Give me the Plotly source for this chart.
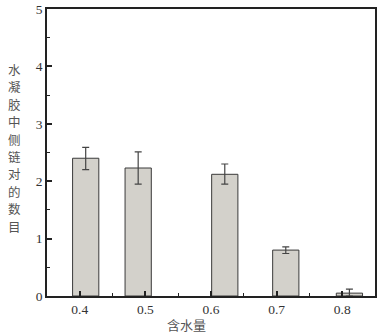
import plotly.graph_objects as go

# Data
bar_x = [0.409, 0.489, 0.621, 0.714, 0.811]   # bar centre positions on the numeric x axis
values = [2.40, 2.23, 2.12, 0.80, 0.05]
err_plus = [0.19, 0.28, 0.18, 0.055, 0.07]
err_minus = [0.20, 0.28, 0.17, 0.06, 0.05]
x_ticks = [0.4, 0.5, 0.6, 0.7, 0.8]
x_ticklabels = ["0.4", "0.5", "0.6", "0.7", "0.8"]
y_ticks = [0, 1, 2, 3, 4, 5]
y_label_chars = list("水凝胶中侧链对的数目")
x_title = "含水量"

L, R, T, B = 47, 3, 9, 40
W, H = 378, 336
pw, ph = W - L - R, H - T - B

fig = go.Figure()
fig.add_trace(go.Bar(
    x=bar_x, y=values, width=0.04,
    marker=dict(color="#d3d1cb", line=dict(color="#3a3a3a", width=1)),
    error_y=dict(type="data", array=err_plus, arrayminus=err_minus,
                 color="#444444", thickness=1.2, width=3.5),
))

axis_font = dict(family="Liberation Serif", size=13.5, color="#333333")
fig.update_layout(
    width=W, height=H,
    margin=dict(l=L, r=R, t=T, b=B),
    paper_bgcolor="white", plot_bgcolor="white",
    showlegend=False,
    xaxis=dict(range=[0.35, 0.85], tickvals=x_ticks, ticktext=x_ticklabels,
               ticks="inside", ticklen=5, tickwidth=1.5, tickcolor="#222",
               minor=dict(dtick=0.05, tick0=0.35, ticks="inside", ticklen=3, tickwidth=1.2, tickcolor="#222"),
               showline=True, linecolor="#222", linewidth=1.5, mirror=True,
               showgrid=False, zeroline=False, tickfont=axis_font, automargin=False),
    yaxis=dict(range=[0, 5], tickvals=y_ticks,
               ticks="inside", ticklen=5, tickwidth=1.5, tickcolor="#222",
               minor=dict(dtick=0.5, ticks="inside", ticklen=3, tickwidth=1.2, tickcolor="#222"),
               showline=True, linecolor="#222", linewidth=1.5, mirror=True,
               showgrid=False, zeroline=False, tickfont=axis_font, automargin=False),
)

# vertical y-axis label, one character per line
top_c, step = 69.5, 17.4
for i, ch in enumerate(y_label_chars):
    py = top_c + i * step
    fig.add_annotation(
        text=ch, xref="paper", yref="paper",
        x=(14 - L) / pw, y=1 - (py - T) / ph, xanchor="center", yanchor="middle",
        showarrow=False, borderpad=0,
        font=dict(family="Noto Sans CJK SC", size=12.5, color="#555555"),
    )
fig.add_annotation(
    text=x_title, xref="paper", yref="paper",
    x=(186 - L) / pw, y=1 - (324 - T) / ph, xanchor="center", yanchor="middle", showarrow=False,
    borderpad=0,
    font=dict(family="Noto Sans CJK SC", size=13, color="#555555"),
)

fig.write_html("out.html", config={"displayModeBar": False},
               post_script="document.body.style.margin='0';document.body.style.overflow='hidden';")
